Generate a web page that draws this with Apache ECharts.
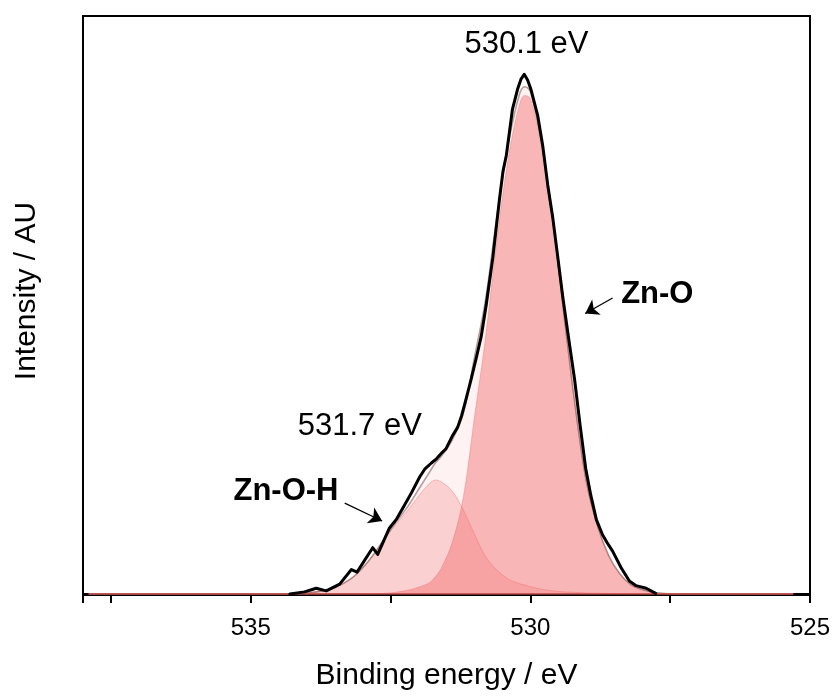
<!DOCTYPE html>
<html>
<head>
<meta charset="utf-8">
<script src="https://cdn.jsdelivr.net/npm/echarts@6/dist/echarts.min.js"></script>
<style>
  html, body { margin: 0; padding: 0; background: #fff; }
  #chart { width: 834px; height: 696px; }
</style>
</head>
<body>
<div id="chart"></div>
<script>
// O 1s spectrum: measured counts (normalised) and two-component fit
const energyExp = [534.30, 534.04, 533.83, 533.65, 533.41, 533.20, 533.10, 532.82, 532.73, 532.52,
  532.40, 532.25, 532.13, 531.98, 531.89, 531.77, 531.68, 531.57, 531.51, 531.39,
  531.30, 531.23, 531.16, 531.06, 530.97, 530.88, 530.79, 530.67, 530.55, 530.49,
  530.43, 530.32, 530.23, 530.17, 530.11, 530.05, 529.99, 529.87, 529.78, 529.69,
  529.60, 529.51, 529.42, 529.32, 529.21, 529.11, 529.01, 528.92, 528.82, 528.71,
  528.63, 528.53, 528.38, 528.23, 528.11, 527.93, 527.76];
const intensityExp = [0.0, 0.4, 1.1, 0.6, 1.9, 4.7, 4.2, 8.9, 7.6, 12.7,
  14.3, 17.1, 19.4, 22.5, 24.0, 25.2, 26.0, 27.3, 27.9, 30.5,
  32.1, 34.3, 37.1, 41.3, 45.3, 49.5, 55.6, 64.8, 76.2, 81.3,
  84.4, 93.3, 97.1, 99.0, 100.0, 98.9, 97.1, 92.1, 86.3, 78.7,
  72.4, 64.8, 57.1, 49.5, 41.3, 32.4, 24.1, 19.0, 14.3, 11.4,
  9.9, 8.25, 5.1, 2.5, 1.6, 1.1, 0.1];

// fit grid (eV) and fitted curves
const fitEnergy = [537.9, 534.5, 534.2, 533.8, 533.5, 533.2, 533.0, 532.8, 532.6, 532.4,
  532.2, 532.0, 531.8, 531.7, 531.6, 531.4, 531.2, 531.0, 530.8, 530.6,
  530.4, 530.2, 530.1, 530.0, 529.8, 529.6, 529.4, 529.2, 529.0, 528.8,
  528.6, 528.4, 528.2, 528.0, 527.8, 527.6, 527.2, 525.3];
const fitZnO = [0, 0, 0, 0, 0, 0, 0.02, 0.05, 0.1, 0.35,
  0.7, 1.3, 2.2, 3.3, 4.8, 9.8, 18.5, 34, 49.5, 68,
  83.5, 94, 95.9, 95.3, 86, 71.5, 53.5, 36, 21.5, 13,
  7.3, 3.8, 1.7, 0.8, 0.3, 0.1, 0, 0];
const fitZnOH = [0, 0, 0.1, 0.45, 1.2, 3.0, 5.0, 7.6, 10.7, 13.5,
  16.0, 18.8, 21.3, 21.9, 21.6, 19.8, 16.2, 11.5, 7.2, 4.6,
  2.9, 2.0, 1.7, 1.4, 0.9, 0.6, 0.4, 0.3, 0.2, 0.15,
  0.1, 0.08, 0.06, 0.05, 0.03, 0, 0, 0];
const fitEnvelope = [0, 0, 0.1, 0.45, 1.2, 3.0, 5.02, 7.65, 10.8, 13.85,
  16.7, 20.1, 23.5, 25.2, 26.4, 29.6, 34.7, 45.5, 56.7, 72.6,
  86.4, 96.0, 97.6, 96.7, 86.9, 72.1, 53.9, 36.3, 21.7, 13.15,
  7.4, 3.88, 1.76, 0.85, 0.33, 0.1, 0, 0];

// background (flat after subtraction)
const bgEnergy = [537.9, 525.3];
const bgIntensity = [0, 0];

// component names and peak positions (eV)
const componentNames = ['Zn-O', 'Zn-O-H'];
const peakPositions = [530.1, 531.7];

const xTicks = [525, 527.5, 530, 532.5, 535, 537.5];
const xLabels = ['525', '', '530', '', '535', ''];

const pairs = (xs, ys) => xs.map((x, i) => [x, ys[i]]);
const FONT = "'Liberation Sans', Arial, sans-serif";

const chart = echarts.init(document.getElementById('chart'), null, { renderer: 'canvas' });

const arrowLine = (from, to) => ([{ coord: from }, { coord: to }]);
const arrowStyle = {
  silent: true,
  symbol: ['none', 'arrow'],
  symbolSize: 13,
  lineStyle: { color: '#000', width: 1.3, type: 'solid' },
  itemStyle: { color: '#000' },
  label: { show: false },
  emphasis: { disabled: true }
};

chart.setOption({
  animation: false,
  backgroundColor: '#ffffff',
  textStyle: { fontFamily: FONT },
  grid: {
    left: 83, right: 24, top: 16, bottom: 95,
    show: true, borderColor: '#000', borderWidth: 2, backgroundColor: 'transparent'
  },
  xAxis: {
    type: 'value',
    inverse: true,
    min: 525, max: 538, interval: 2.5,
    name: 'Binding energy / eV',
    nameLocation: 'middle',
    nameGap: 66,
    nameTextStyle: { fontSize: 30, color: '#000', fontFamily: FONT },
    axisLine: { show: true, lineStyle: { color: '#000', width: 2 } },
    axisTick: { show: true, length: 9, lineStyle: { color: '#000', width: 2 } },
    axisLabel: {
      fontSize: 24, color: '#000', margin: 21, fontFamily: FONT,
      formatter: v => { const i = xTicks.indexOf(v); return i >= 0 ? xLabels[i] : ''; }
    },
    splitLine: { show: false }
  },
  yAxis: {
    type: 'value',
    min: -0.2, max: 111.2,
    axisLine: { show: true, lineStyle: { color: '#000', width: 2 } },
    axisTick: { show: false },
    axisLabel: { show: false },
    splitLine: { show: false }
  },
  graphic: [{
    type: 'text',
    x: 27, y: 291,
    rotation: Math.PI / 2,
    style: {
      text: 'Intensity / AU',
      font: "30px 'Liberation Sans', Arial, sans-serif",
      fill: '#000',
      align: 'center',
      verticalAlign: 'middle'
    }
  }],
  series: [
    {
      name: 'Envelope fill',
      type: 'line',
      data: pairs(fitEnergy, fitEnvelope),
      smooth: 0.35,
      showSymbol: false,
      lineStyle: { width: 0 },
      areaStyle: { color: 'rgba(240,100,100,0.12)' },
      z: 1
    },
    {
      name: componentNames[1],
      type: 'line',
      data: pairs(fitEnergy, fitZnOH),
      smooth: 0.35,
      showSymbol: false,
      lineStyle: { width: 1, color: 'rgba(240,120,120,0.45)' },
      areaStyle: { color: 'rgba(245,130,130,0.44)' },
      z: 2,
      markPoint: {
        symbol: 'circle', symbolSize: 0, silent: true,
        label: { show: true, position: 'inside', color: '#000', fontFamily: FONT },
        data: [
          { coord: [533.05, 32.2], label: { fontSize: 31, formatter: peakPositions[1].toFixed(1) + ' eV' } },
          { coord: [534.37, 19.8], label: { fontSize: 31, fontWeight: 'bold', formatter: componentNames[1] } }
        ]
      },
      markLine: Object.assign({}, arrowStyle, {
        data: [arrowLine([533.32, 17.47], [532.65, 14.04])]
      })
    },
    {
      name: componentNames[0],
      type: 'line',
      data: pairs(fitEnergy, fitZnO),
      smooth: 0.35,
      showSymbol: false,
      lineStyle: { width: 1, color: 'rgba(235,110,110,0.4)' },
      areaStyle: { color: 'rgba(243,100,100,0.6)' },
      z: 3,
      markPoint: {
        symbol: 'circle', symbolSize: 0, silent: true,
        label: { show: true, position: 'inside', color: '#000', fontFamily: FONT },
        data: [
          { coord: [530.07, 105.8], label: { fontSize: 31, formatter: peakPositions[0].toFixed(1) + ' eV' } },
          { coord: [527.73, 57.6], label: { fontSize: 31, fontWeight: 'bold', formatter: componentNames[0] } }
        ]
      },
      markLine: Object.assign({}, arrowStyle, {
        data: [arrowLine([528.53, 56.95], [529.02, 53.96])]
      })
    },
    {
      name: 'Envelope',
      type: 'line',
      data: pairs(fitEnergy, fitEnvelope),
      smooth: 0.35,
      showSymbol: false,
      lineStyle: { width: 1.6, color: 'rgba(120,60,60,0.5)' },
      z: 4
    },
    {
      name: 'Background',
      type: 'line',
      data: pairs(bgEnergy, bgIntensity),
      showSymbol: false,
      lineStyle: { width: 1.2, color: '#e06060' },
      z: 5
    },
    {
      name: 'Measured',
      type: 'line',
      data: pairs(energyExp, intensityExp),
      showSymbol: false,
      lineStyle: { width: 3, color: '#000', join: 'round', cap: 'round' },
      z: 6
    }
  ]
});
</script>
</body>
</html>
